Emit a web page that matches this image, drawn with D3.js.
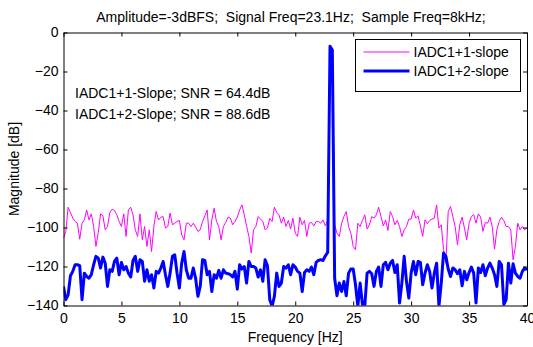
<!DOCTYPE html>
<html>
<head>
<meta charset="utf-8">
<script src="https://cdn.jsdelivr.net/npm/d3@7"></script>
<style>
  body { margin: 0; background: #fff; }
  svg text { font-family: "Liberation Sans", Arial, sans-serif; fill: #000; white-space: pre; }
</style>
</head>
<body>
<div id="chart"></div>
<script>
// spectrum bins, 0..40 Hz every 0.2 Hz
const freqStep = 0.2;
const freqMax = 40;

// IADC1+1-slope (magenta), dB
const slope1 = [
  -105.5, -102, -89.6, -92.3, -95.2, -96.9, -97.8, -106, -97.8, -96.1,
  -91, -96.1, -93, -99.5, -109.7, -102.5, -93, -94, -101.2, -99.5,
  -92.3, -90.6, -91.3, -93.5, -96.9, -99.5, -93, -104.6, -91, -89.6,
  -93.5, -101.2, -104.6, -93, -106.3, -99.5, -109.7, -101.2, -112.3, -99.5,
  -91.8, -96.1, -94.7, -94.4, -100.3, -99.5, -92.6, -98.6, -97.8, -96.9,
  -96.4, -103.8, -106.3, -97.8, -97.8, -99.5, -97.8, -99.8, -102, -101.2,
  -96.9, -94, -91, -106.3, -96.1, -90.1, -96.9, -99.5, -106.3, -99.5,
  -97.4, -94.7, -95.2, -98.6, -96.9, -94.7, -91, -88.4, -93.5, -99.2,
  -104.6, -113.1, -101.2, -99.5, -94.4, -95.7, -96.9, -101.2, -100.3, -95.4,
  -96.9, -89.6, -92.3, -93.5, -97.8, -94.7, -99.5, -96.4, -100.8, -95.2,
  -102.9, -104.6, -94.7, -98.6, -96.4, -104.6, -97.8, -97.4, -99.2, -96.9,
  -96.9, -97.8, -96.1, -99.2, -96.4, -7, -9, -98.6, -102.9, -104.6,
  -97.8, -94.4, -91.8, -99.5, -102.9, -109.7, -111.4, -97.8, -99.5, -96.4,
  -93.5, -100.8, -98.6, -94.4, -95.2, -93.5, -89.6, -94.4, -99.2, -96.1,
  -101.5, -91.8, -94.4, -98.6, -96.4, -99.5, -104.6, -101.2, -99.5, -95.7,
  -95.7, -91, -95.2, -94, -99.2, -104.6, -96.1, -98.1, -96.4, -95.7,
  -95.2, -88.4, -100.3, -98.6, -111.4, -118.3, -91.8, -89.2, -94.4, -99.5,
  -108.9, -98.6, -94.7, -100.3, -106.3, -97.8, -94.4, -93.5, -97.8, -93,
  -94.7, -102, -97.4, -97.8, -94.7, -99.5, -111.1, -101.2, -96.9, -94.7,
  -96.4, -99.5, -99.5, -101.2, -116.5, -109.7, -97.8, -101.2, -99.5, -101.2,
  -100.3
];

// IADC1+2-slope (blue), dB
const slope2 = [
  -130.2, -137, -134.5, -124.7, -122.5, -119.1, -119.1, -119.6, -137, -123.4,
  -125.1, -126, -124.2, -119.1, -114.8, -115.7, -120.8, -115.2, -118.3, -130.2,
  -121.7, -122.5, -117.4, -115.7, -124.2, -117.9, -121.7, -120, -123.4, -125.4,
  -116.9, -114.8, -122.5, -116.5, -117.4, -127.6, -121.7, -127.6, -124.2, -131,
  -122.5, -123.4, -120.8, -117.4, -124.2, -130.2, -123.4, -114.8, -114, -123.4,
  -131, -118.3, -112.3, -121.7, -126, -126, -120.8, -126, -135.3, -130.2,
  -116.5, -116.9, -124.2, -122.5, -132.8, -124.2, -126, -122, -126, -121.7,
  -123.4, -123.7, -124.2, -125.4, -122.5, -131.6, -119.1, -121.3, -120, -128.5,
  -117.4, -120, -120, -120.8, -125.4, -121.7, -127.6, -116.5, -119.6, -137,
  -140.4, -135.3, -123.4, -130.2, -128.5, -120, -120.8, -119.1, -124.2, -119.1,
  -120.3, -122.5, -123.4, -132.8, -123.1, -121.7, -122.5, -120.3, -124.2, -117.9,
  -116.9, -116.5, -116.9, -114.5, -112.8, -7, -9, -126, -135, -128.5,
  -132.8, -127.7, -135, -123.4, -121.3, -121.3, -129.4, -140.4, -128.5, -139.6,
  -140.4, -123.4, -122.5, -123.7, -130.2, -122.5, -120.3, -130.2, -119.1, -117.9,
  -121.7, -118.3, -116.9, -123.1, -119.1, -138.7, -128.5, -114.8, -127.7, -136.2,
  -123.4, -117.4, -124.2, -117.4, -117.9, -129.4, -123.4, -119.1, -122.5, -131,
  -123.4, -118.3, -140.4, -128.5, -113.1, -114.8, -121.3, -125.1, -120.8, -121.7,
  -123.7, -121.7, -129.9, -122.5, -126.8, -123.1, -120.3, -123.4, -138.7, -120.8,
  -123.1, -119.1, -124.7, -120.8, -118.3, -120.8, -124.2, -130.2, -117.4, -119.1,
  -139.6, -137, -118.3, -128.5, -118.6, -123.4, -125.1, -126, -122.5, -120.8,
  -121.7
];

const xTicks = [0, 5, 10, 15, 20, 25, 30, 35, 40];
const yTicks = [0, -20, -40, -60, -80, -100, -120, -140];
const seriesNames = ['IADC1+1-slope', 'IADC1+2-slope'];
const snrNotes = ['IADC1+1-Slope; SNR = 64.4dB', 'IADC1+2-Slope; SNR = 88.6dB'];
const titleText = 'Amplitude=-3dBFS;  Signal Freq=23.1Hz;  Sample Freq=8kHz;';

const W = 533, H = 347;
const margin = { top: 32.5, right: 6, bottom: 41.5, left: 63.5 };
const colors = ['#ff00ff', '#0000ff'];
const widths = [1, 3];

const svg = d3.select('#chart').append('svg')
  .attr('width', W)
  .attr('height', H);

const x = d3.scaleLinear().domain([0, freqMax]).range([margin.left, W - margin.right]);
const y = d3.scaleLinear().domain([-140, 0]).range([H - margin.bottom, margin.top]);

const freq = slope1.map((d, i) => +(i * freqStep).toFixed(1));

svg.append('clipPath').attr('id', 'plot-clip')
  .append('rect')
  .attr('x', x(0)).attr('y', y(0))
  .attr('width', x(freqMax) - x(0)).attr('height', y(-140) - y(0));

// data lines
const line = d3.line()
  .x((d, i) => x(freq[i]))
  .y(d => y(d));

const plot = svg.append('g').attr('clip-path', 'url(#plot-clip)');
[slope1, slope2].forEach((s, k) => {
  plot.append('path')
    .datum(s)
    .attr('d', line)
    .attr('fill', 'none')
    .attr('stroke', colors[k])
    .attr('stroke-width', widths[k])
    .attr('stroke-linejoin', 'round');
});

// axes, ticks inside on all four sides
const fontSize = '14px';
function styleAxis(g) {
  g.attr('font-family', null);
  g.select('.domain').attr('stroke', '#000');
  g.selectAll('.tick line').attr('stroke', '#000');
  g.selectAll('.tick text').style('font-size', fontSize).attr('fill', '#000');
}

svg.append('g')
  .attr('transform', `translate(0,${y(-140)})`)
  .call(d3.axisBottom(x).tickValues(xTicks).tickSizeInner(-4).tickSizeOuter(0).tickPadding(8))
  .call(styleAxis);

svg.append('g')
  .attr('transform', `translate(0,${y(0)})`)
  .call(d3.axisTop(x).tickValues(xTicks).tickSizeInner(-4).tickSizeOuter(0).tickFormat(''))
  .call(styleAxis);

svg.append('g')
  .attr('transform', `translate(${x(0)},0)`)
  .call(d3.axisLeft(y).tickValues(yTicks).tickSizeInner(-4).tickSizeOuter(0).tickPadding(5))
  .call(styleAxis);

svg.append('g')
  .attr('transform', `translate(${x(freqMax)},0)`)
  .call(d3.axisRight(y).tickValues(yTicks).tickSizeInner(-4).tickSizeOuter(0).tickFormat(''))
  .call(styleAxis);

// titles
svg.append('text')
  .attr('x', 291).attr('y', 22)
  .attr('text-anchor', 'middle')
  .style('font-size', fontSize)
  .text(titleText);

svg.append('text')
  .attr('x', (x(0) + x(freqMax)) / 2).attr('y', 341.5)
  .attr('text-anchor', 'middle')
  .style('font-size', fontSize)
  .text('Frequency [Hz]');

svg.append('text')
  .attr('transform', `translate(19,${(y(0) + y(-140)) / 2}) rotate(-90)`)
  .attr('text-anchor', 'middle')
  .style('font-size', fontSize)
  .text('Magnitude [dB]');

// SNR notes
snrNotes.forEach((t, i) => {
  svg.append('text')
    .attr('x', 75).attr('y', 98 + i * 20.5)
    .style('font-size', fontSize)
    .text(t);
});

// legend
const lg = svg.append('g').attr('transform', 'translate(355.5,39.5)');
lg.append('rect')
  .attr('width', 165).attr('height', 52)
  .attr('fill', '#fff').attr('stroke', '#000');
seriesNames.forEach((name, i) => {
  const ly = 12.5 + i * 19;
  lg.append('line')
    .attr('x1', 8).attr('x2', 54)
    .attr('y1', ly).attr('y2', ly)
    .attr('stroke', colors[i])
    .attr('stroke-width', widths[i]);
  lg.append('text')
    .attr('x', 58).attr('y', ly)
    .attr('dy', '0.35em')
    .style('font-size', fontSize)
    .text(name);
});
</script>
</body>
</html>
